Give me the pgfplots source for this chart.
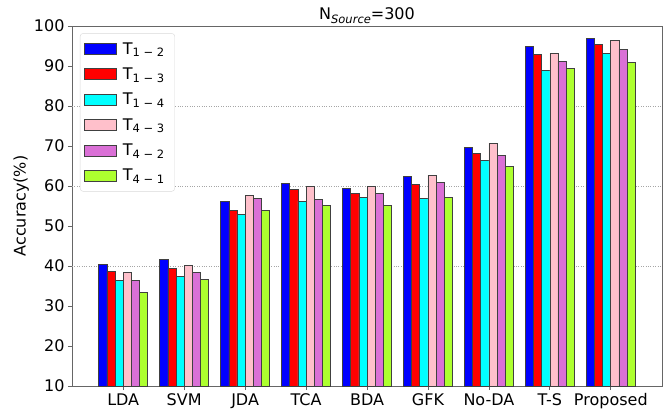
\documentclass[border=0pt]{standalone}
\usepackage{fontspec}
\setmainfont{DejaVu Sans}
\usepackage{pgfplots}
\usepackage{pgfplotstable}
\pgfplotsset{compat=1.18}
\definecolor{cblue}{RGB}{0,0,255}
\definecolor{cred}{RGB}{255,0,0}
\definecolor{ccyan}{RGB}{0,255,255}
\definecolor{cpink}{RGB}{255,192,203}
\definecolor{corchid}{RGB}{218,112,214}
\definecolor{cgy}{RGB}{173,255,47}
\pgfplotstableread{
x a b c d e f
0 40.4 38.7 36.3 38.3 36.3 33.4
1 41.7 39.3 37.4 40.2 38.4 36.7
2 56.2 54.0 53.0 57.7 56.9 54.0
3 60.7 59.2 56.2 59.9 56.7 55.2
4 59.4 58.2 57.2 59.8 58.2 55.2
5 62.4 60.4 56.8 62.7 60.9 57.2
6 69.6 68.2 66.5 70.7 67.7 64.9
7 95.0 93.0 89.0 93.2 91.2 89.3
8 96.9 95.3 93.2 96.4 94.2 91.0
}\data
\newcommand{\sub}[1]{\textsubscript{\fontsize{11.5}{12}\selectfont #1}}
\begin{document}
\begin{tikzpicture}
\useasboundingbox (-72pt,-26pt) rectangle (596pt,386pt);
\begin{axis}[
  at={(0pt,0pt)}, anchor=south west,
  scale only axis, width=590pt, height=360pt,
  xmin=-0.84, xmax=8.84, ymin=10, ymax=100,
  ytick={10,20,...,100},
  xtick={0,...,8},
  xticklabels={LDA,SVM,JDA,TCA,BDA,GFK,No-DA,T-S,Proposed},
  tick align=outside, tick pos=left,
  major tick length=4pt,
  every tick/.style={black!60, line width=0.8pt},
  axis line style={black!60, line width=0.8pt},
  ticklabel style={font=\fontsize{16}{18}\selectfont},
  /pgf/number format/assume math mode=true,
  extra y ticks={40,60,80},
  extra y tick labels={},
  extra y tick style={grid=major, major tick length=0pt},
  major grid style={black!35, dotted, line width=1pt},
  ylabel={Accuracy(\%)},
  ylabel shift=-6pt,
  ylabel style={font=\fontsize{16}{18}\selectfont},
  title={N{\raisebox{-3.5pt}{\fontsize{11.5}{12}\selectfont\itshape Source}}=300},
  title style={font=\fontsize{16}{18}\selectfont, yshift=-7pt},
  ybar, bar width=0.1333,
  every axis plot/.append style={draw=black!75, line width=0.7pt},
  legend image code/.code={\draw[#1, line width=0.7pt, sharp corners] (0pt,-5.5pt) rectangle (32pt,5.5pt);},
  legend style={at={(0.0135,0.98)}, anchor=north west, draw=black!15, rounded corners=3pt,
    font=\fontsize{16}{18}\selectfont, row sep=8.2pt, inner xsep=4pt, inner ysep=7pt,
    legend cell align=left, nodes={inner xsep=6pt}},
]
\addplot[fill=cblue, bar shift=-0.3333] table[x=x,y=a]{\data};
\addplot[fill=cred, bar shift=-0.2] table[x=x,y=b]{\data};
\addplot[fill=ccyan, bar shift=-0.0667] table[x=x,y=c]{\data};
\addplot[fill=cpink, bar shift=0.0667] table[x=x,y=d]{\data};
\addplot[fill=corchid, bar shift=0.2] table[x=x,y=e]{\data};
\addplot[fill=cgy, bar shift=0.3333] table[x=x,y=f]{\data};
\legend{T\sub{1 − 2},T\sub{1 − 3},T\sub{1 − 4},T\sub{4 − 3},T\sub{4 − 2},T\sub{4 − 1}}
\end{axis}
\end{tikzpicture}
\end{document}
